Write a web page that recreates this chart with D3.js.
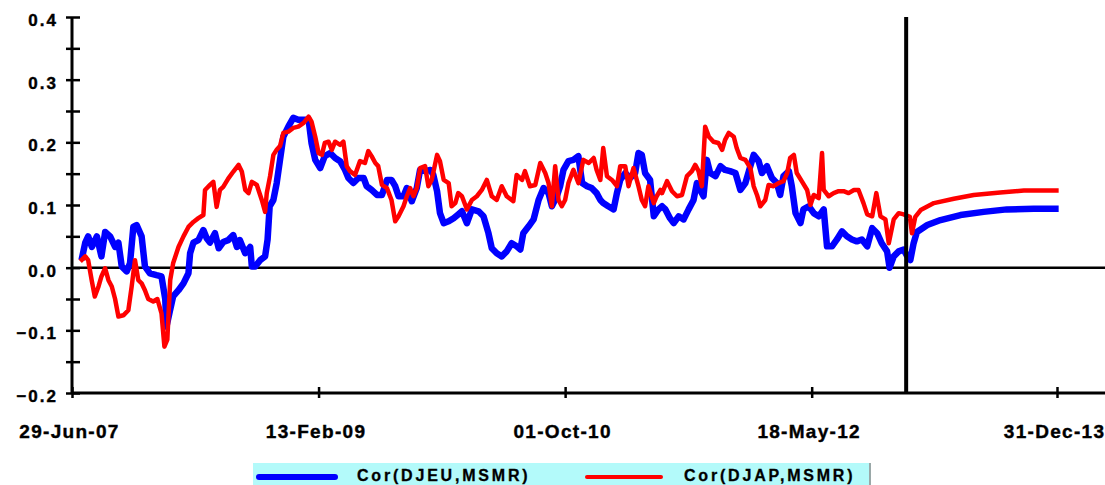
<!DOCTYPE html>
<html>
<head>
<meta charset="utf-8">
<script src="https://cdn.jsdelivr.net/npm/d3@7"></script>
<style>
  body { margin: 0; background: #fff; }
  text { font-family: Arial, "Liberation Sans", sans-serif; font-weight: bold; fill: #000; }
</style>
</head>
<body>
<script>
// DATA (x = weeks after 29-Jun-07, y = correlation)
var startDate = new Date(2007, 5, 29);
var endDate = new Date(2013, 11, 31);
var forecastStart = new Date(2013, 0, 1);
var xTickDates = ["2007-06-29", "2009-02-13", "2010-10-01", "2012-05-18", "2013-12-31"];
var yTicks = [-0.2, -0.15, -0.1, -0.05, 0, 0.05, 0.1, 0.15, 0.2, 0.25, 0.3, 0.35, 0.4];
var seriesNames = ["Cor(DJEU,MSMR)", "Cor(DJAP,MSMR)"];

var corDJEU = [[3.3,0.012],[4.5,0.04],[5.6,0.05],[6.8,0.033],[8.5,0.05],[10.2,0.018],[11.4,0.057],[13.1,0.05],
  [14.8,0.033],[16.0,0.04],[17.1,0.002],[18.9,-0.006],[20.0,0.007],[21.1,0.065],[22.3,0.068],[24.0,0.05],
  [25.2,0.002],[26.9,-0.009],[29.2,-0.012],[30.9,-0.014],[32.1,-0.05],[32.6,-0.094],[33.6,-0.073],[34.9,-0.046],
  [36.7,-0.036],[38.4,-0.025],[40.1,-0.009],[40.7,0.023],[41.8,0.04],[43.6,0.044],[45.3,0.06],[46.4,0.047],
  [47.6,0.04],[49.3,0.055],[50.5,0.031],[52.2,0.041],[53.9,0.044],[55.6,0.052],[56.8,0.033],[57.9,0.044],
  [59.7,0.023],[61.4,0.033],[62.0,0.002],[63.1,0.002],[64.8,0.012],[66.6,0.018],[67.4,0.045],[68.1,0.098],
  [69.4,0.108],[70.6,0.135],[71.7,0.172],[72.9,0.209],[74.6,0.225],[76.3,0.239],[78.0,0.236],[79.8,0.236],
  [81.5,0.236],[82.6,0.199],[83.8,0.172],[85.5,0.159],[87.2,0.178],[89.0,0.183],[90.7,0.175],[92.4,0.17],
  [94.1,0.156],[95.3,0.143],[97.0,0.135],[98.7,0.143],[100.5,0.143],[101.6,0.13],[103.3,0.124],[105.1,0.116],
  [106.8,0.116],[108.5,0.14],[110.2,0.14],[111.4,0.13],[112.5,0.114],[114.3,0.114],[115.4,0.127],[117.1,0.106],
  [118.9,0.127],[120.0,0.156],[121.7,0.154],[123.5,0.156],[124.6,0.148],[125.8,0.122],[126.9,0.087],[128.1,0.071],
  [129.8,0.074],[131.5,0.079],[133.2,0.085],[134.4,0.09],[136.1,0.071],[137.8,0.093],[140.1,0.09],[141.8,0.082],
  [143.6,0.055],[144.7,0.031],[146.4,0.023],[148.2,0.018],[149.9,0.026],[151.6,0.039],[153.3,0.034],[154.5,0.029],
  [155.6,0.055],[157.4,0.066],[159.1,0.077],[160.8,0.108],[162.5,0.127],[164.3,0.119],[165.4,0.098],[167.1,0.114],
  [168.3,0.13],[169.4,0.156],[171.2,0.17],[172.9,0.172],[174.6,0.178],[175.8,0.135],[177.5,0.13],[179.2,0.127],
  [180.9,0.119],[182.1,0.108],[183.2,0.103],[184.9,0.098],[186.7,0.093],[187.8,0.119],[189.0,0.14],[190.7,0.151],
  [192.4,0.143],[194.1,0.151],[195.3,0.183],[196.4,0.18],[197.6,0.151],[199.3,0.14],[200.5,0.082],[202.2,0.093],
  [203.4,0.098],[204.5,0.093],[206.2,0.079],[207.4,0.071],[209.1,0.082],[210.8,0.077],[212.6,0.093],[214.3,0.108],
  [215.4,0.135],[216.6,0.124],[217.7,0.114],[218.9,0.172],[220.0,0.151],[221.8,0.146],[223.5,0.162],[225.2,0.156],
  [226.9,0.154],[228.7,0.151],[230.4,0.124],[232.1,0.135],[233.8,0.162],[235.0,0.18],[236.7,0.17],[237.9,0.151],
  [239.6,0.162],[241.3,0.143],[243.0,0.135],[244.2,0.116],[245.3,0.146],[247.1,0.154],[248.2,0.13],[249.4,0.087],
  [251.1,0.071],[252.2,0.093],[254.0,0.098],[255.7,0.087],[257.4,0.082],[259.1,0.093],[260.3,0.034],[262.0,0.034],
  [263.7,0.045],[265.4,0.058],[267.2,0.05],[268.9,0.045],[270.6,0.042],[272.3,0.045],[274.1,0.034],[275.8,0.063],
  [277.5,0.055],[279.2,0.039],[281.0,0.026],[281.9,0.0],[283.3,0.018],[285.0,0.026],[286.7,0.029],[287.7,0.02],
  [289.0,0.012],[290.1,0.039],[291.3,0.057],[294.8,0.068],[299.4,0.076],[306.3,0.084],[314.3,0.089],[322.3,0.093],
  [331.5,0.094],[340.2,0.094]];

var corDJAP = [[2.8,0.01],[4.5,0.018],[5.6,0.012],[6.8,-0.022],[7.9,-0.046],[9.1,-0.03],[10.2,-0.014],[11.4,-0.001],
  [12.5,-0.02],[13.7,-0.03],[14.8,-0.05],[16.0,-0.078],[17.7,-0.076],[19.4,-0.068],[20.6,-0.03],[21.7,0.012],
  [22.9,-0.02],[24.0,-0.025],[25.2,-0.036],[26.3,-0.05],[28.0,-0.054],[29.4,-0.05],[30.9,-0.073],[31.8,-0.126],
  [32.9,-0.115],[33.8,-0.02],[34.9,0.007],[36.7,0.033],[38.4,0.05],[40.1,0.065],[41.8,0.073],[43.6,0.079],
  [45.3,0.084],[45.9,0.124],[47.6,0.132],[48.7,0.137],[49.9,0.097],[51.0,0.124],[52.2,0.129],[53.9,0.142],
  [55.6,0.153],[57.4,0.164],[58.5,0.153],[59.7,0.124],[60.8,0.119],[62.0,0.137],[63.7,0.132],[65.4,0.108],
  [66.6,0.089],[67.1,0.119],[68.3,0.146],[69.4,0.18],[70.6,0.188],[71.7,0.194],[72.9,0.215],[74.6,0.217],
  [76.3,0.223],[78.0,0.225],[79.8,0.231],[81.5,0.241],[82.6,0.233],[83.8,0.209],[85.0,0.183],[86.1,0.18],
  [87.2,0.199],[88.4,0.201],[89.5,0.188],[90.7,0.201],[92.4,0.196],[93.6,0.201],[94.7,0.162],[95.9,0.154],
  [97.6,0.148],[99.3,0.17],[101.0,0.167],[102.2,0.186],[103.3,0.178],[104.5,0.167],[105.6,0.162],[106.8,0.132],
  [108.5,0.127],[110.2,0.108],[111.4,0.074],[112.5,0.082],[114.3,0.098],[115.4,0.114],[116.6,0.127],[117.7,0.114],
  [118.9,0.127],[120.0,0.159],[121.7,0.162],[122.9,0.13],[124.0,0.14],[125.8,0.18],[126.9,0.17],[128.1,0.14],
  [129.8,0.135],[130.9,0.098],[132.1,0.103],[133.2,0.119],[134.4,0.114],[136.1,0.093],[137.8,0.108],[139.5,0.114],
  [141.3,0.124],[143.0,0.14],[144.7,0.114],[146.4,0.108],[148.2,0.13],[149.9,0.114],[152.2,0.106],[153.3,0.148],
  [155.1,0.14],[156.2,0.154],[157.9,0.13],[159.7,0.132],[161.4,0.167],[163.1,0.151],[164.3,0.135],[165.4,0.098],
  [166.6,0.162],[167.7,0.108],[168.9,0.098],[170.0,0.108],[171.2,0.135],[172.9,0.156],[174.6,0.135],[176.3,0.172],
  [178.1,0.167],[179.8,0.175],[180.9,0.156],[182.1,0.14],[183.2,0.191],[184.4,0.146],[186.1,0.14],[187.8,0.13],
  [189.0,0.162],[190.7,0.162],[191.8,0.13],[193.6,0.159],[195.3,0.13],[196.4,0.108],[197.6,0.098],[198.7,0.13],
  [200.5,0.103],[201.6,0.114],[202.8,0.124],[203.4,0.119],[205.1,0.138],[206.8,0.122],[208.5,0.114],[210.3,0.116],
  [212.0,0.146],[213.7,0.154],[214.9,0.164],[216.0,0.154],[217.2,0.13],[218.3,0.225],[219.5,0.209],[221.2,0.201],
  [222.9,0.199],[224.1,0.188],[225.2,0.204],[226.4,0.215],[228.1,0.209],[229.2,0.191],[230.4,0.175],[232.1,0.172],
  [233.8,0.159],[235.0,0.13],[236.1,0.116],[237.3,0.098],[239.0,0.108],[240.2,0.132],[241.9,0.13],[243.6,0.135],
  [245.3,0.138],[246.5,0.151],[247.6,0.175],[248.8,0.18],[249.9,0.151],[251.6,0.138],[253.4,0.124],[254.5,0.1],
  [255.7,0.116],[257.4,0.111],[258.5,0.183],[259.1,0.124],[260.8,0.114],[262.6,0.119],[264.3,0.122],[266.0,0.122],
  [267.7,0.119],[269.5,0.124],[271.2,0.124],[272.9,0.103],[274.1,0.085],[275.8,0.082],[277.3,0.119],[278.7,0.082],
  [280.4,0.077],[281.5,0.039],[283.3,0.077],[285.0,0.087],[286.7,0.085],[288.8,0.081],[289.6,0.055],[290.7,0.081],
  [292.5,0.092],[297.1,0.103],[304.0,0.11],[310.9,0.116],[320.0,0.12],[328.1,0.123],[340.2,0.123]];

var width = 1105, height = 485;
var svg = d3.select("body").append("svg")
    .attr("width", width)
    .attr("height", height);

var x = d3.scaleTime().domain([startDate, endDate]).range([72, 1057]);
var y = d3.scaleLinear().domain([-0.2, 0.4]).range([393, 17]);

function weekToDate(w) { return d3.timeDay.offset(startDate, Math.round(w * 7)); }

// y axis
var yAxis = svg.append("g")
    .attr("transform", "translate(72,0)")
    .call(d3.axisLeft(y)
      .tickValues(yTicks)
      .tickSize(0)
      .tickFormat(function(d) {
        return Math.abs(Math.round(d * 10) - d * 10) < 1e-6 ? d3.format(".1f")(d) : "";
      }));
yAxis.select(".domain").remove();
yAxis.selectAll(".tick line")
    .attr("x1", -6).attr("x2", 8)
    .attr("stroke", "#000").attr("stroke-width", 2.5);
yAxis.selectAll(".tick text")
    .attr("x", -14).attr("dy", "0.5em")
    .style("font-size", "17px")
    .style("letter-spacing", "2px")
    .style("stroke", "#000").style("stroke-width", 0.4);

svg.append("line")
    .attr("x1", 72).attr("x2", 72)
    .attr("y1", y(0.4)).attr("y2", y(-0.2))
    .attr("stroke", "#000").attr("stroke-width", 3);

// x axis
var xAxis = svg.append("g")
    .attr("transform", "translate(0," + y(-0.2) + ")")
    .call(d3.axisBottom(x)
      .tickValues(xTickDates.map(function(s) { return d3.timeParse("%Y-%m-%d")(s); }))
      .tickSize(0)
      .tickFormat(d3.timeFormat("%d-%b-%y")));
xAxis.select(".domain").remove();
xAxis.selectAll(".tick line")
    .attr("y1", -6).attr("y2", 5)
    .attr("stroke", "#000").attr("stroke-width", 2.5);
xAxis.selectAll(".tick text")
    .attr("y", 32).attr("dx", -3)
    .style("font-size", "19px")
    .style("letter-spacing", "1.3px")
    .style("stroke", "#000").style("stroke-width", 0.4);

svg.append("line")
    .attr("x1", 72).attr("x2", width)
    .attr("y1", y(-0.2)).attr("y2", y(-0.2))
    .attr("stroke", "#000").attr("stroke-width", 3);

// zero line
svg.append("line")
    .attr("x1", 72).attr("x2", width)
    .attr("y1", y(0)).attr("y2", y(0))
    .attr("stroke", "#000").attr("stroke-width", 2.5);

// series
var line = d3.line()
    .x(function(d) { return x(weekToDate(d[0])); })
    .y(function(d) { return y(d[1]); });

svg.append("path")
    .datum(corDJEU)
    .attr("fill", "none")
    .attr("stroke", "#0000ff")
    .attr("stroke-width", 6.5)
    .attr("stroke-linejoin", "round")
    .attr("d", line);

svg.append("path")
    .datum(corDJAP)
    .attr("fill", "none")
    .attr("stroke", "#ff0000")
    .attr("stroke-width", 4.5)
    .attr("stroke-linejoin", "round")
    .attr("d", line);

// forecast divider
svg.append("line")
    .attr("x1", x(forecastStart)).attr("x2", x(forecastStart))
    .attr("y1", y(0.4)).attr("y2", y(-0.2))
    .attr("stroke", "#000").attr("stroke-width", 4);

// legend
var legend = svg.append("g");
legend.append("rect")
    .attr("x", 253).attr("y", 463)
    .attr("width", 617).attr("height", 30)
    .attr("fill", "#b3fafa");
legend.append("line")
    .attr("x1", 870).attr("x2", 870).attr("y1", 463).attr("y2", 485)
    .attr("stroke", "#9aa8a8").attr("stroke-width", 2);

var legendItems = [
  {name: seriesNames[0], color: "#0000ff", w: 6, x0: 259, x1: 335, tx: 357},
  {name: seriesNames[1], color: "#ff0000", w: 4, x0: 587, x1: 661, tx: 684}
];
legendItems.forEach(function(d) {
  legend.append("line")
      .attr("x1", d.x0).attr("x2", d.x1)
      .attr("y1", 477).attr("y2", 477)
      .attr("stroke", d.color).attr("stroke-width", d.w)
      .attr("stroke-linecap", "round");
  legend.append("text")
      .attr("x", d.tx).attr("y", 481)
      .style("font-size", "16px")
      .style("letter-spacing", "2.8px")
      .style("stroke", "#000").style("stroke-width", 0.3)
      .text(d.name);
});
</script>
</body>
</html>
